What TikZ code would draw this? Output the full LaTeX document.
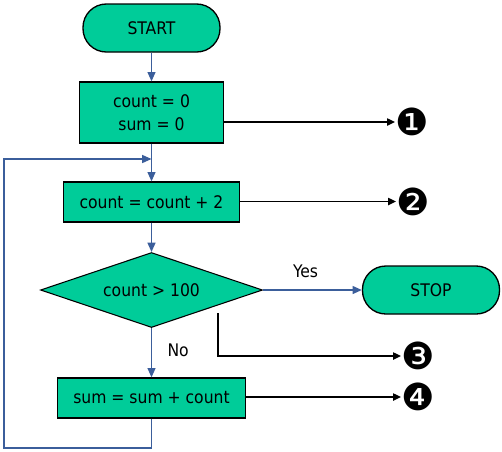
\documentclass[tikz,border=0pt]{standalone}
\usepackage{fontspec}
\setmainfont{DejaVu Sans Condensed}
\newfontfamily\dingfont{DejaVu Sans}
\usetikzlibrary{shapes.geometric,arrows.meta}
\definecolor{boxgreen}{RGB}{0,204,153}
\definecolor{linkblue}{RGB}{59,94,155}
\begin{document}
\begin{tikzpicture}[x=0.75pt,y=-0.75pt,
  font=\fontsize{13}{17}\selectfont,
  procbox/.style={draw=black, line width=1pt, fill=boxgreen, rectangle, inner sep=0pt, align=center},
  termbox/.style={procbox, rounded corners=17.5pt, minimum width=102.75pt, minimum height=36pt},
  decbox/.style={draw=black, line width=0.8pt, fill=boxgreen, diamond, aspect=2.96, inner sep=0pt, minimum width=166.5pt, minimum height=56.25pt},
  flow/.style={draw=linkblue, line width=1pt, -{Triangle[length=7pt,width=6pt]}},
  notearrow/.style={draw=black, line width=1pt, -{Triangle[length=6pt,width=5.5pt]}},
  numlabel/.style={font=\dingfont\fontsize{28}{28}\selectfont, inner sep=0pt}
]
\useasboundingbox (0,0) rectangle (502,451);

\node[termbox] (start) at (151.5,28) {START};
\node[procbox, minimum width=108pt, minimum height=45.75pt] (init) at (151.5,112.5) {count = 0\\sum = 0};
\node[procbox, minimum width=132pt, minimum height=30pt] (inc) at (151.5,202) {count = count + 2};
\node[decbox] (test) at (151.5,290) {count > 100};
\node[termbox] (stop) at (431,290) {STOP};
\node[procbox, minimum width=141pt, minimum height=30pt] (acc) at (151.5,398) {sum = sum + count};

\node[numlabel] (n1) at (412,122) {❶};
\node[numlabel] (n2) at (413,201.5) {❷};
\node[numlabel] (n3) at (418,356) {❸};
\node[numlabel] (n4) at (418,397) {❹};

\coordinate (loopjoin) at (151.5,159);
\coordinate (loopcorner) at (4,448);
\coordinate (tap) at (218,313);

\draw[flow] (start) -- (init);
\draw[flow] (init) -- (inc);
\draw[flow] (inc) -- (test);
\draw[flow] (test.east) -- node[pos=0.43, yshift=14.25pt] {Yes} (stop.west);
\draw[flow] (test.south) -- node[pos=0.45, xshift=20pt] {No} (acc.north);
\draw[flow] (acc.south) |- (loopcorner) |- (loopjoin);

\draw[notearrow] (init.east |- n1) -- (n1.west);
\draw[notearrow] (inc.east |- n2) -- (n2.west);
\draw[notearrow] (tap) |- (n3.west);
\draw[notearrow] (acc.east |- n4) -- (n4.west);
\end{tikzpicture}
\end{document}
